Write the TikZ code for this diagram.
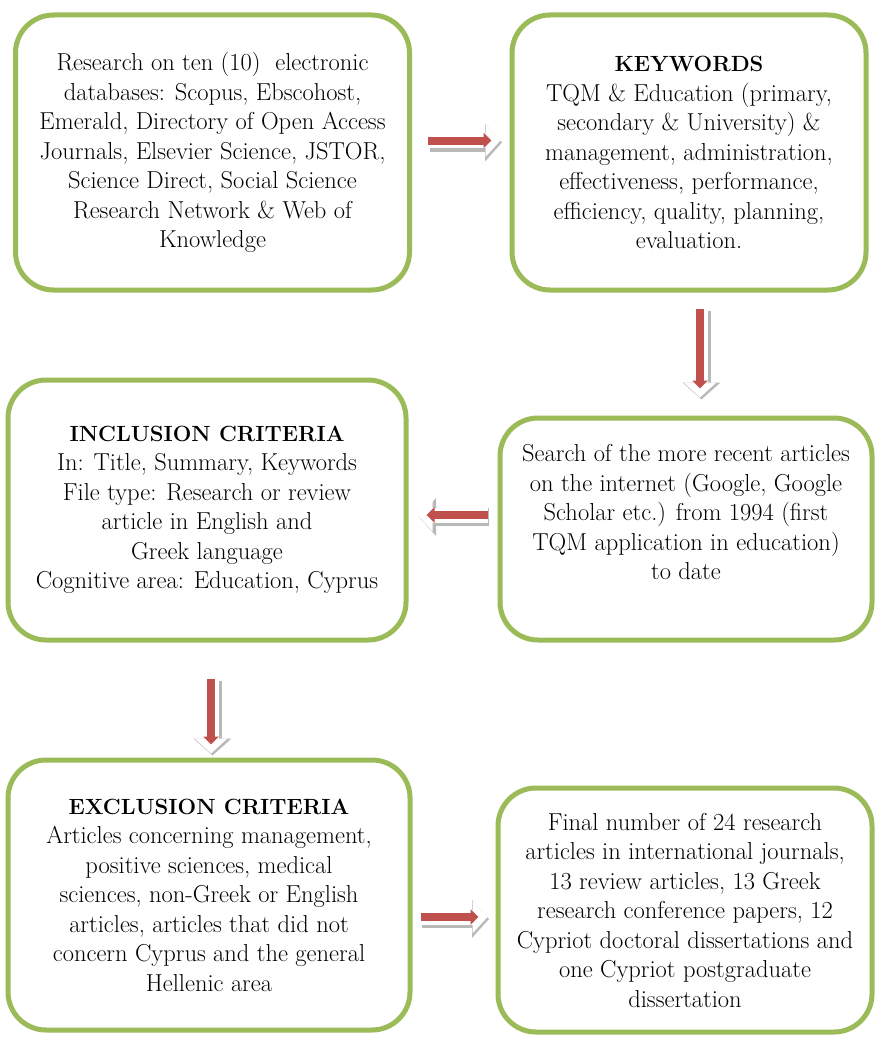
\documentclass[tikz,border=0pt]{standalone}
\usepackage{fontspec}
\usetikzlibrary{arrows.meta,calc}
\definecolor{boxgreen}{HTML}{9BBB59}
\definecolor{arrred}{HTML}{C0504D}
\newcommand{\boxhead}[1]{{\fontsize{22}{29.5}\selectfont\bfseries #1}}
\tikzset{
  flowbox/.style={draw=boxgreen, line width=5pt, rounded corners=38pt, fill=white,
    align=center, inner sep=0pt, font=\fontsize{24.5}{29.5}\selectfont},
  arrshadow/.style={draw=gray!55, line width=18pt, -{Triangle[length=17pt,width=37pt]}},
  arrwhite/.style={draw=white, line width=15pt, -{Triangle[length=15pt,width=32pt]}},
  arrfront/.style={draw=arrred, line width=8pt, shorten >=9pt, -{Triangle[length=8pt,width=15pt]}},
}
\newcommand{\blockarrow}[2]{%
  \draw[arrshadow, transform canvas={shift={(1.5pt,-2pt)}}] #1 -- #2;
  \draw[arrwhite] #1 -- #2;
  \draw[arrfront] #1 -- #2;
}
\begin{document}
\begin{tikzpicture}[x=1pt,y=-1pt]
\useasboundingbox[fill=white] (0,0) rectangle (877,1038);

\node[flowbox, minimum width=394pt, minimum height=275pt] (b1) at (212.5,152.5)
 {Research on ten (10) \ electronic\\ databases: Scopus, Ebscohost,\\ Emerald, Directory of Open Access\\ Journals, Elsevier Science, JSTOR,\\ Science Direct, Social Science\\ Research Network \& Web of\\ Knowledge};

\node[flowbox, minimum width=354pt, minimum height=275pt] (b2) at (689,152.5)
 {\boxhead{KEYWORDS}\\ TQM \& Education (primary,\\ secondary \& University) \&\\ management, administration,\\ effectiveness, performance,\\ efficiency, quality, planning,\\ evaluation.};

\node[flowbox, minimum width=398pt, minimum height=260pt] (b3) at (207,510)
 {\boxhead{INCLUSION CRITERIA}\\ In: Title, Summary, Keywords\\ File type: Research or review\\ article in English and\\ Greek language\\ Cognitive area: Education, Cyprus};

\node[flowbox, minimum width=372pt, minimum height=222pt] (b4) at (686,529)
 {Search of the more recent articles\\ on the internet (Google, Google\\ Scholar etc.) from 1994 (first\\ TQM application in education)\\ to date\\[4pt]};

\node[flowbox, minimum width=402pt, minimum height=270pt] (b5) at (209,895)
 {\boxhead{EXCLUSION CRITERIA}\\ Articles concerning management,\\ positive sciences, medical\\ sciences, non-Greek or English\\ articles, articles that did not\\ concern Cyprus and the general\\ Hellenic area};

\node[flowbox, minimum width=374pt, minimum height=244pt] (b6) at (685,910)
 {Final number of 24 research\\ articles in international journals,\\ 13 review articles, 13 Greek\\ research conference papers, 12\\ Cypriot doctoral dissertations and\\ one Cypriot postgraduate\\ dissertation};

\blockarrow{($(b1.east)+(16,-12)$)}{($(b2.west)+(-9,-12)$)}
\blockarrow{($(b2.south)+(11,16)$)}{($(b4.north)+(14,-18)$)}
\blockarrow{($(b4.west)+(-10,-14)$)}{($(b3.east)+(9,5)$)}
\blockarrow{($(b3.south)+(4,36)$)}{($(b5.north)+(2,-4)$)}
\blockarrow{($(b5.east)+(8,22)$)}{($(b6.west)+(-8,7)$)}
\end{tikzpicture}
\end{document}
